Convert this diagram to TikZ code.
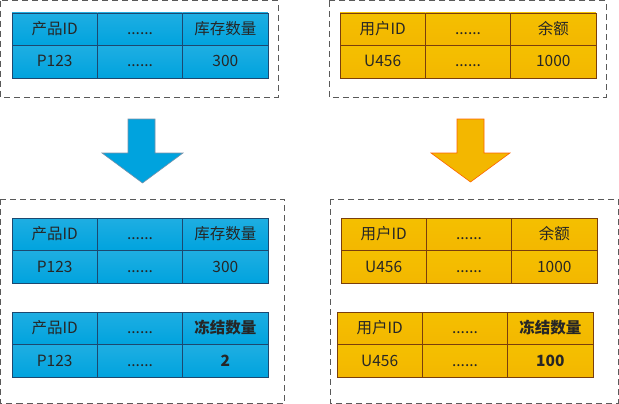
\documentclass[tikz,border=0pt]{standalone}
\usepackage{fontspec}
\setmainfont{Noto Sans CJK SC}
\definecolor{cellblue}{RGB}{0,163,222}
\definecolor{lineblue}{RGB}{28,72,112}
\definecolor{cellgold}{RGB}{243,183,0}
\definecolor{linebrown}{RGB}{122,62,12}

\begin{document}
\begin{tikzpicture}[x=1pt,y=-1pt,font=\fontsize{15.5pt}{17pt}\selectfont,
  bcell/.style={draw=lineblue,line width=0.8pt,top color=cellblue!88!white,bottom color=cellblue,
    minimum width=85.3pt,minimum height=32.5pt,inner sep=0pt,outer sep=0pt,text=black!85,
    text height=12.5pt,text depth=2.5pt},
  gcell/.style={draw=linebrown,line width=0.8pt,top color=cellgold!88!yellow,bottom color=cellgold,
    minimum width=85.3pt,minimum height=32.5pt,inner sep=0pt,outer sep=0pt,text=black!85,
    text height=12.5pt,text depth=2.5pt},
  bold/.style={font=\fontsize{15.5pt}{17pt}\selectfont\bfseries},
  frame/.style={draw=black!65,line width=0.8pt,dash pattern=on 6pt off 4pt}]
  \useasboundingbox (0,0) rectangle (619,404);
  % dashed frames
  \draw[frame] (0.5,0.8) rectangle (278,97);
  \draw[frame] (329,0.8) rectangle (606,97);
  \draw[frame] (0.5,199) rectangle (284,403);
  \draw[frame] (330,199) rectangle (618,403);
  % stock table, before
  \node[bcell] (inva) at (54.7,29.25) {产品ID};
  \node[bcell] (invb) at (140,29.25) {......};
  \node[bcell] (invc) at (225.3,29.25) {库存数量};
  \node[bcell] (invd) at (54.7,61.75) {P123};
  \node[bcell] (inve) at (140,61.75) {......};
  \node[bcell] (invf) at (225.3,61.75) {300};
  % account table, before
  \node[gcell] (acca) at (382.7,29.25) {用户ID};
  \node[gcell] (accb) at (468,29.25) {......};
  \node[gcell] (accc) at (553.3,29.25) {余额};
  \node[gcell] (accd) at (382.7,61.75) {U456};
  \node[gcell] (acce) at (468,61.75) {......};
  \node[gcell] (accf) at (553.3,61.75) {1000};
  % arrows
  \fill[cellblue,draw=lineblue!60,line width=0.6pt] (128,119)--(155,119)--(155,153)--(183,153)--(142.5,183)--(102,153)--(128,153)--cycle;
  \fill[cellgold,draw=orange!60!red!80!cellgold,line width=0.6pt] (457,119)--(484,119)--(484,153)--(510,153)--(470.5,182)--(431,153)--(457,153)--cycle;
  % stock tables, after
  \node[bcell] (newinva) at (54.7,234.5) {产品ID};
  \node[bcell] (newinvb) at (140,234.5) {......};
  \node[bcell] (newinvc) at (225.3,234.5) {库存数量};
  \node[bcell] (newinvd) at (54.7,267) {P123};
  \node[bcell] (newinve) at (140,267) {......};
  \node[bcell] (newinvf) at (225.3,267) {300};
  \node[bcell] (frza) at (54.7,328.5) {产品ID};
  \node[bcell] (frzb) at (140,328.5) {......};
  \node[bcell,bold] (frzc) at (225.3,328.5) {冻结数量};
  \node[bcell] (frzd) at (54.7,361) {P123};
  \node[bcell] (frze) at (140,361) {......};
  \node[bcell,bold] (frzf) at (225.3,361) {2};
  % account tables, after
  \node[gcell] (newacca) at (383.7,234.5) {用户ID};
  \node[gcell] (newaccb) at (469,234.5) {......};
  \node[gcell] (newaccc) at (554.3,234.5) {余额};
  \node[gcell] (newaccd) at (383.7,267) {U456};
  \node[gcell] (newacce) at (469,267) {......};
  \node[gcell] (newaccf) at (554.3,267) {1000};
  \node[gcell] (accfrza) at (379.7,328.5) {用户ID};
  \node[gcell] (accfrzb) at (465,328.5) {......};
  \node[gcell,bold] (accfrzc) at (550.3,328.5) {冻结数量};
  \node[gcell] (accfrzd) at (379.7,361) {U456};
  \node[gcell] (accfrze) at (465,361) {......};
  \node[gcell,bold] (accfrzf) at (550.3,361) {100};
\end{tikzpicture}
\end{document}
